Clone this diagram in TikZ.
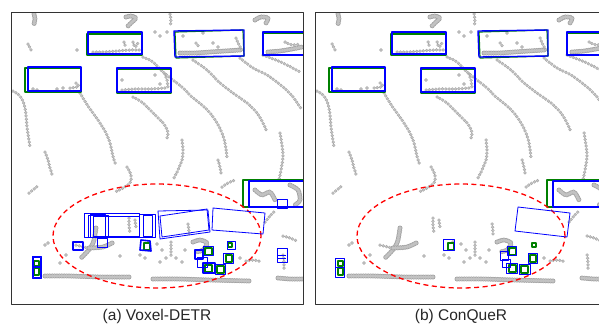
\documentclass[tikz,border=0pt]{standalone}
\usepackage{fontspec}
\setmainfont{Liberation Sans}
\usepackage{tikz}

\definecolor{cloudfill}{HTML}{C2C2C2}
\definecolor{cloudedge}{HTML}{A4A4A4}
\definecolor{detblue}{RGB}{0,0,255}
\definecolor{gtgreen}{RGB}{0,128,0}

\tikzset{
  ptout/.style={draw=cloudedge, line width=3.5pt, line cap=round, dash pattern=on 0pt off 3.3pt},
  ptin/.style={draw=cloudfill, line width=2.2pt, line cap=round, dash pattern=on 0pt off 3.3pt},
  blobout/.style={draw=cloudedge, line width=5pt, line cap=round, dash pattern=on 0pt off 2.4pt},
  blobin/.style={draw=cloudfill, line width=3.8pt, line cap=round, dash pattern=on 0pt off 2.4pt},
  gt/.style={draw=gtgreen, line width=1.2pt},
  pred/.style={draw=detblue, line width=1.4pt},
  det/.style={draw=detblue, line width=0.8pt},
  detthick/.style={draw=detblue, line width=1.6pt},
  roi/.style={draw=red, line width=1.3pt, dash pattern=on 5pt off 3.5pt},
  frame/.style={draw=black!80, line width=0.9pt},
  caption/.style={font=\fontsize{15.5}{18}\selectfont, text=black!85}
}

\newcommand{\cloud}[1]{%
  \draw[ptout] plot[smooth] coordinates {#1};
  \draw[ptin] plot[smooth] coordinates {#1};}
\newcommand{\blob}[1]{%
  \draw[blobout] plot[smooth] coordinates {#1};
  \draw[blobin] plot[smooth] coordinates {#1};}
\newcommand{\pts}[1]{%
  \foreach \p in {#1} {\fill[cloudedge] \p circle (1.8pt); \fill[cloudfill] \p circle (1.1pt);}}

% the scan and the ground truth, same in both panels
\newcommand{\scene}{%
  \blob{(34,14) (35,19) (34,24)}
  \blob{(126,17) (131,16) (136,18) (132,22) (128,26)}
  \cloud{(170,14) (171,20) (170,27)}
  \blob{(255,20) (261,17) (268,18) (266,23)}
  \cloud{(28,44) (30,48) (32,52)}
  \pts{(77,50), (155,32), (160,36), (167,32)}

  \cloud{(93,52) (105,52) (118,51) (130,50) (140,50)}
  \cloud{(124,42) (126,48)} \cloud{(133,42) (135,47) (138,43)}
  \cloud{(70,88) (78,87)} \cloud{(76,83) (80,87)}
  \pts{(33,89), (37,90), (57,89), (63,88)}
  \cloud{(122,90) (135,89) (150,89) (165,88)}
  \cloud{(165,74) (167,80) (168,88)}
  \pts{(122,80), (155,75), (160,84)}
  \blob{(180,53) (195,53) (210,52) (225,51) (240,50)}
  \cloud{(236,38) (239,45) (242,50)}
  \cloud{(196,43) (200,48)}
  \pts{(183,36), (203,33), (213,43), (218,47)}
  \blob{(268,52) (280,51) (292,49) (302,47)}
  \cloud{(285,42) (292,45) (300,44)}

  \cloud{(13,91) (20,96) (24,104) (26,115) (27,127) (29,140) (30,148)}
  \cloud{(80,93) (86,103) (93,113) (100,123) (106,133) (110,143) (113,156) (116,166)}
  \cloud{(133,97) (143,103) (153,113) (163,123) (168,132) (167,138)}
  \cloud{(143,57) (153,62) (163,72) (173,80) (183,88) (192,97) (202,105) (210,113) (217,123) (222,133) (225,143) (227,157)}
  \cloud{(193,60) (207,70) (220,83) (233,93) (247,103) (257,113) (263,123) (267,132)}
  \cloud{(240,58) (253,68) (267,75) (283,87) (293,97) (302,110)}
  \cloud{(263,55) (283,63) (300,72)}

  \cloud{(45,152) (48,160) (50,168) (53,177)}
  \cloud{(127,167) (131,175) (130,183) (123,188) (115,192)}
  \cloud{(182,140) (183,150) (182,160) (178,170) (174,178)}
  \cloud{(218,160) (220,167) (221,173)}
  \cloud{(222,187) (228,183) (235,180)}
  \cloud{(29,193) (34,189) (38,186)}
  \cloud{(280,133) (282,145) (283,157) (281,170) (279,180)}
  \cloud{(265,222) (270,216) (276,210)}
  \blob{(255,190) (262,195) (270,192) (275,200)}
  \blob{(290,185) (298,190) (300,200) (295,205)}

  \blob{(45,276) (70,276) (100,277) (131,277)}
  \blob{(153,279) (180,279) (210,280) (250,281)}
  \blob{(278,278) (290,279) (302,279)}
  \blob{(96,228) (94,240) (91,247) (86,253) (81,258)}
  \blob{(89,248) (103,247) (114,242)}
  \cloud{(76,245) (88,248)}
  \cloud{(129,218) (129,226) (130,232)}
  \cloud{(135,220) (136,228)}
  \blob{(193,242) (200,240) (207,243) (203,250) (196,252)}
  \cloud{(171,242) (171,249) (171,256)}
  \cloud{(188,224) (189,231) (189,237)}
  \cloud{(283,255) (284,262) (284,270)}
  \cloud{(283,236) (290,238) (297,241)}
  \cloud{(246,261) (254,260) (262,262)}
  \pts{(149,242), (157,244), (162,250), (166,258), (176,258), (182,262), (160,262),
        (140,255), (145,258), (60,263), (66,255), (120,256), (185,250), (45,245),
        (48,243), (240,258)}

  \draw[gt] (87,34) rectangle (142,55);
  \draw[pred] (88,32) rectangle (142,54);
  \draw[gt] (25,68) rectangle (81,92);
  \draw[pred] (28,67) rectangle (81,91);
  \draw[gt] (117,69) rectangle (171,93);
  \draw[pred] (117,68) rectangle (171,92);
  \draw[gt] (175,32) -- (243,30) -- (244,56) -- (176,58) -- cycle;
  \draw[pred] (174,31) -- (244,30) -- (244,56) -- (175,57) -- cycle;
  \draw[gt] (263,33) rectangle (310,55);
  \draw[pred] (263,32) rectangle (310,55);
  \draw[gt] (243,180) rectangle (310,207);
  \draw[pred] (249,181) rectangle (310,207);

  \draw[gt] (34,261) rectangle (39,266);
  \draw[gt] (34,268) rectangle (39,275);
  \draw[gt] (144,243) rectangle (150,250);
  \draw[gt] (205,248) rectangle (212,255);
  \draw[gt] (228,243) rectangle (232,247);
  \draw[gt] (226,255) rectangle (232,262);
  \draw[gt] (205,265) rectangle (212,272);
  \draw[gt] (217,266) rectangle (224,273);

  \draw[roi] (157,236) ellipse [x radius=104pt, y radius=52pt];
}

\begin{document}
\begin{tikzpicture}[x=1pt, y=-1pt, line join=round]
\useasboundingbox (0,0) rectangle (599,325);
\clip (0,0) rectangle (599,325);

% (a) Voxel-DETR
\begin{scope}
  \clip (11,12) rectangle (303,304);
  \scene
  \draw[det] (32,256) rectangle (41,267);
  \draw[det] (32,266) rectangle (41,278);
  \draw[det] (33,257) rectangle (40,277);
  \draw[detthick] (73,242) rectangle (83,250);
  \draw[detthick] (141,240) -- (150,241) -- (151,251) -- (140,250) -- cycle;
  \draw[det] (84,213) rectangle (139,237);
  \draw[det] (88,215) rectangle (108,237);
  \draw[det] (90,214) rectangle (105,237);
  \draw[det] (93,216) rectangle (139,236);
  \draw[det] (139,214) rectangle (155,237);
  \draw[det] (143,215) rectangle (152,236);
  \draw[det] (97,238) rectangle (107,247);
  \draw[det] (158,211) -- (208,210) -- (210,232) -- (160,239) -- cycle;
  \draw[det] (160,216) -- (207,209) -- (209,230) -- (162,237) -- cycle;
  \draw[det] (213,208) -- (265,213) -- (263,234) -- (212,230) -- cycle;
  \draw[detthick] (195,250) rectangle (203,259);
  \draw[det] (197,257) rectangle (207,267);
  \draw[det] (203,246) rectangle (213,255);
  \draw[det] (223,253) rectangle (233,263);
  \draw[det] (227,241) rectangle (235,249);
  \draw[detthick] (203,263) rectangle (215,273);
  \draw[det] (215,264) rectangle (225,274);
  \draw[det] (277,199) rectangle (287,208);
  \draw[det] (277,248) rectangle (287,262);
  \draw[det] (278,255) -- (286,255);
  \draw[det] (278,258) -- (286,258);
\end{scope}
\draw[frame] (11,12) rectangle (303,304);
\node[caption] (capa) at (157,316) {(a) Voxel-DETR};

% (b) ConQueR
\begin{scope}[shift={(304,0)}]
  \clip (11,12) rectangle (303,304);
  \scene
  \draw[det] (31,258) rectangle (40,277);
  \draw[det] (31,267) -- (40,267);
  \draw[det] (139,239) rectangle (150,250);
  \draw[det] (214,207) -- (266,213) -- (263,237) -- (211,231) -- cycle;
  \draw[det] (196,251) rectangle (204,260);
  \draw[det] (203,246) rectangle (212,255);
  \draw[det] (198,259) rectangle (206,267);
  \draw[det] (202,263) rectangle (213,273);
  \draw[det] (215,264) rectangle (226,274);
  \draw[det] (224,253) rectangle (233,263);
\end{scope}
\draw[frame] (315,12) -- (315,304) -- (610,304);
\draw[frame] (315,12) -- (610,12);
\node[caption] (capb) at (461,316) {(b) ConQueR};

\end{tikzpicture}
\end{document}
